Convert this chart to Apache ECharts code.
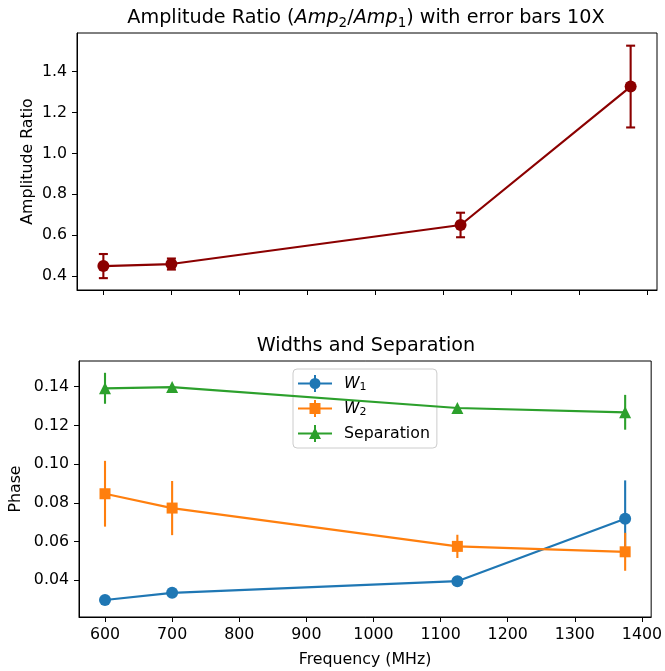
<!DOCTYPE html>
<html>
<head>
<meta charset="utf-8">
<script src="https://cdn.jsdelivr.net/npm/echarts@6/dist/echarts.min.js"></script>
<style>html,body{margin:0;padding:0;background:#fff}#c{width:665px;height:671px}</style>
</head>
<body>
<div id="c"></div>
<script>
// ---- data ----
const freq = [600, 700, 1125, 1375];
const ampRatio = [0.449, 0.459, 0.650, 1.327];
const ampErr = [0.059, 0.027, 0.060, 0.200];
const w1 = [0.0298, 0.0335, 0.0395, 0.0718];
const w1Err = [0.0025, 0.0015, 0.0015, 0.0198];
const w2 = [0.0847, 0.0773, 0.0575, 0.0547];
const w2Err = [0.0170, 0.0140, 0.0060, 0.0098];
const sep = [0.1392, 0.1398, 0.1290, 0.1268];
const sepErr = [0.0080, 0.0012, 0.0010, 0.0090];
const xTicks = [600, 700, 800, 900, 1000, 1100, 1200, 1300, 1400];
const topYTicks = [0.4, 0.6, 0.8, 1.0, 1.2, 1.4];
const botYTicks = [0.04, 0.06, 0.08, 0.10, 0.12, 0.14];

const FONT = 'DejaVu Sans';
const FS = 15.8;
const TFS = 19.2;
const chart = echarts.init(document.getElementById('c'), null, {renderer: 'canvas'});

function pts(xs, ys) { return xs.map((x, i) => [x, ys[i]]); }
function errPts(xs, ys, es) { return xs.map((x, i) => [x, ys[i], es[i]]); }

function errSeries(name, data, color, cap, xi, yi, z) {
  return {
    type: 'custom', name: name, xAxisIndex: xi, yAxisIndex: yi, z: z,
    data: data, encode: {x: 0, y: 1}, silent: true,
    renderItem: function (params, api) {
      const x = api.value(0), y = api.value(1), e = api.value(2);
      const hi = api.coord([x, y + e]), lo = api.coord([x, y - e]);
      const st = {stroke: color, lineWidth: 2.1};
      const ch = [{type: 'line', shape: {x1: hi[0], y1: hi[1], x2: lo[0], y2: lo[1]}, style: st}];
      if (cap) {
        ch.push({type: 'line', shape: {x1: hi[0] - cap, y1: hi[1], x2: hi[0] + cap, y2: hi[1]}, style: st});
        ch.push({type: 'line', shape: {x1: lo[0] - cap, y1: lo[1], x2: lo[0] + cap, y2: lo[1]}, style: st});
      }
      return {type: 'group', children: ch};
    }
  };
}
function lineSeries(name, data, color, symbol, size, xi, yi, z) {
  return {
    type: 'line', name: name, xAxisIndex: xi, yAxisIndex: yi, z: z,
    data: data, symbol: symbol, symbolSize: size, showSymbol: true,
    lineStyle: {color: color, width: 2.2}, itemStyle: {color: color},
    emphasis: {disabled: true}, animation: false
  };
}

const axLine = {show: true, onZero: false, lineStyle: {color: '#000', width: 1}};
const axTickStyle = {lineStyle: {color: '#000', width: 1}, length: 5, inside: false};
const lblStyle = {color: '#000', fontFamily: FONT, fontSize: FS};

const iconCircle = 'path://M0,7.5H34V9.5H0Z M16,0H18V17H16Z M11.5,8.5A5.5,5.5,0,1,1,22.5,8.5A5.5,5.5,0,1,1,11.5,8.5Z';
const iconSquare = 'path://M0,7.5H34V9.5H0Z M16,0H18V17H16Z M11.5,3H22.5V14H11.5Z';
const iconTri = 'path://M0,7.5H34V9.5H0Z M16,0H18V17H16Z M17,2.5L23,14H11Z';

const option = {
  backgroundColor: '#fff',
  animation: false,
  title: [
    {text: 'Amplitude Ratio ({i|Amp}{s|2}/{i|Amp}{s|1}) with error bars 10X', left: 366, top: 7, textAlign: 'center', padding: 0,
     textStyle: {fontFamily: FONT, fontSize: TFS, fontWeight: 'normal', color: '#000',
       rich: {i: {fontFamily: FONT, fontSize: TFS, fontStyle: 'italic', color: '#000'},
              s: {fontFamily: FONT, fontSize: 13.5, color: '#000', padding: [9, 0, 0, 0]}}}},
    {text: 'Widths and Separation', left: 366, top: 337, textAlign: 'center', padding: 0,
     textStyle: {fontFamily: FONT, fontSize: TFS, fontWeight: 'normal', color: '#000'}}
  ],
  grid: [
    {left: 77, right: 8, top: 33, height: 257, show: true, borderColor: '#000', borderWidth: 1, containLabel: false},
    {left: 77, right: 8, top: 361, height: 256, show: true, borderColor: '#000', borderWidth: 1, containLabel: false}
  ],
  xAxis: [
    {type: 'value', gridIndex: 0, min: 561.25, max: 1413.75, axisLine: axLine,
     axisTick: Object.assign({customValues: xTicks}, axTickStyle),
     axisLabel: {show: false}, splitLine: {show: false}},
    {type: 'value', gridIndex: 1, min: 561.25, max: 1413.75, axisLine: axLine,
     axisTick: Object.assign({customValues: xTicks}, axTickStyle),
     axisLabel: Object.assign({customValues: xTicks, margin: 10, formatter: v => String(v)}, lblStyle), splitLine: {show: false},
     name: 'Frequency (MHz)', nameLocation: 'middle', nameGap: 35, nameMoveOverlap: false,
     nameTextStyle: {fontFamily: FONT, fontSize: FS, color: '#000'}}
  ],
  yAxis: [
    {type: 'value', gridIndex: 0, min: 0.332, max: 1.589, axisLine: axLine,
     axisTick: Object.assign({customValues: topYTicks}, axTickStyle),
     axisLabel: Object.assign({customValues: topYTicks, margin: 10, formatter: v => v.toFixed(1)}, lblStyle),
     splitLine: {show: false},
     name: 'Amplitude Ratio', nameLocation: 'middle', nameGap: 41, nameRotate: 90, nameMoveOverlap: false,
     nameTextStyle: {fontFamily: FONT, fontSize: FS, color: '#000'}},
    {type: 'value', gridIndex: 1, min: 0.021, max: 0.1533, axisLine: axLine,
     axisTick: Object.assign({customValues: botYTicks}, axTickStyle),
     axisLabel: Object.assign({customValues: botYTicks, margin: 10, formatter: v => v.toFixed(2)}, lblStyle),
     splitLine: {show: false},
     name: 'Phase', nameLocation: 'middle', nameGap: 55, nameRotate: 90, nameMoveOverlap: false,
     nameTextStyle: {fontFamily: FONT, fontSize: FS, color: '#000'}}
  ],
  legend: {
    orient: 'vertical', left: 293, top: 369, itemWidth: 34, itemHeight: 17, itemGap: 7,
    padding: [6, 7, 6, 5], backgroundColor: 'rgba(255,255,255,0.8)', borderColor: '#cccccc',
    borderWidth: 1, borderRadius: 4, selectedMode: false,
    data: [{name: 'W1', icon: iconCircle}, {name: 'W2', icon: iconSquare}, {name: 'Separation', icon: iconTri}],
    formatter: function (n) { return n === 'W1' ? '{i|W}{s|1}' : (n === 'W2' ? '{i|W}{s|2}' : n); },
    textStyle: {fontFamily: FONT, fontSize: FS, color: '#000', padding: [0, 0, 0, 7],
      rich: {i: {fontFamily: FONT, fontSize: FS, fontStyle: 'italic', color: '#000'},
             s: {fontFamily: FONT, fontSize: 11, color: '#000', padding: [8, 0, 0, 0]}}}
  },
  series: [
    errSeries('amp err', errPts(freq, ampRatio, ampErr), '#8b0000', 4.5, 0, 0, 2),
    lineSeries('Amplitude Ratio', pts(freq, ampRatio), '#8b0000', 'circle', 12, 0, 0, 3),
    errSeries('W1 err', errPts(freq, w1, w1Err), '#1f77b4', 0, 1, 1, 4),
    lineSeries('W1', pts(freq, w1), '#1f77b4', 'circle', 12, 1, 1, 5),
    errSeries('W2 err', errPts(freq, w2, w2Err), '#ff7f0e', 0, 1, 1, 6),
    lineSeries('W2', pts(freq, w2), '#ff7f0e', 'rect', 11, 1, 1, 7),
    errSeries('Sep err', errPts(freq, sep, sepErr), '#2ca02c', 0, 1, 1, 8),
    lineSeries('Separation', pts(freq, sep), '#2ca02c', 'triangle', 12, 1, 1, 9)
  ]
};
chart.setOption(option);
</script>
</body>
</html>
